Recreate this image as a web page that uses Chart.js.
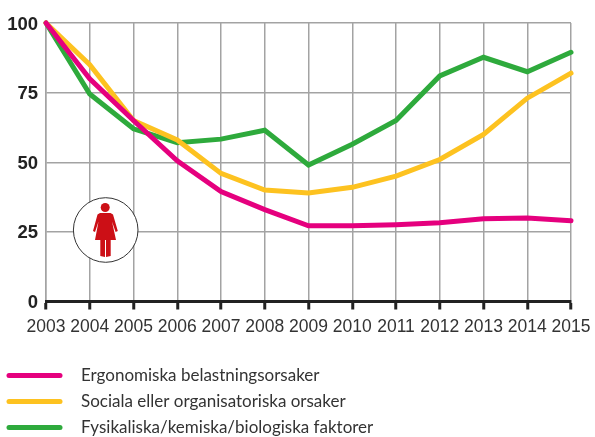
<!DOCTYPE html>
<html><head><meta charset="utf-8">
<style>html,body{margin:0;padding:0;background:#fff}canvas{display:block}</style>
<script src="https://cdn.jsdelivr.net/npm/chart.js@4"></script>
</head><body><canvas id="c" width="595" height="437"></canvas>
<script>
const years=['2003','2004','2005','2006','2007','2008','2009','2010','2011','2012','2013','2014','2015'];
const ergonomiska=[100,80,65,50.5,39.5,33,27.2,27.2,27.6,28.3,29.7,30,29];
const sociala=[100,85,65,58,46,40,39,41,45,51,60,73,82];
const fysikaliska=[100,74.5,62,57,58.3,61.5,49,56.5,65,81,87.7,82.5,89.5];
const seriesNames=['Ergonomiska belastningsorsaker','Sociala eller organisatoriska orsaker','Fysikaliska/kemiska/biologiska faktorer'];
const seriesColors=['#e5007e','#fdc220','#2eaa3c'];
const seriesValues=[ergonomiska,sociala,fysikaliska];
const yTicks=[0,25,50,75,100];

const overlay={id:'overlay',
 afterDatasetsDraw(ch){
  const c=ch.ctx;c.save();
  const cx=105.7,cy=230;
  c.beginPath();c.arc(cx,cy,32.3,0,Math.PI*2);c.fillStyle='#fff';c.fill();
  c.lineWidth=1;c.strokeStyle='#333';c.stroke();
  c.fillStyle='#cc0f16';
  c.beginPath();c.arc(105.2,207.5,4.5,0,Math.PI*2);c.fill();
  c.beginPath();
  c.moveTo(100,213);c.lineTo(110.5,213);c.lineTo(113,214.5);c.lineTo(117.8,231);c.lineTo(115.6,232);
  c.lineTo(112,221.5);c.lineTo(116,240);c.lineTo(110.7,240);c.lineTo(110.7,256);c.lineTo(106,257);c.lineTo(106,240);
  c.lineTo(105,240);c.lineTo(105,257);c.lineTo(100.3,256);c.lineTo(100.3,240);c.lineTo(95,240);
  c.lineTo(98.5,221.5);c.lineTo(95,232);c.lineTo(93,231);c.lineTo(97.5,214.5);c.closePath();c.fill();
  c.restore();
 },
 afterDraw(ch){
  const c=ch.ctx;c.save();
  const ys=[376,402,428];
  seriesNames.forEach((n,i)=>{
   c.strokeStyle=seriesColors[i];c.lineWidth=5;c.lineCap='round';
   c.beginPath();c.moveTo(9,ys[i]-.5);c.lineTo(60,ys[i]-.5);c.stroke();
   c.fillStyle='#333';c.font='17px Lato';c.textBaseline='middle';c.textAlign='left';
   c.fillText(n,81,ys[i]-.5);
  });
  c.restore();
 }};

new Chart(document.getElementById('c'),{
 type:'line',
 data:{labels:years,datasets:seriesNames.map((n,i)=>({label:n,data:seriesValues[i],borderColor:seriesColors[i],backgroundColor:seriesColors[i],borderWidth:5,pointRadius:0,tension:0,clip:false,borderCapStyle:'round',borderJoinStyle:'miter'}))},
 plugins:[overlay],
 options:{responsive:false,animation:false,
  layout:{padding:{top:23,right:24,left:0,bottom:0}},
  plugins:{legend:{display:false},title:{display:false},tooltip:{enabled:false}},
  scales:{
   x:{offset:false,
    afterFit(s){s.height=135.5;s.paddingLeft=0;s.paddingRight=0;},
    grid:{color:'#a3a3a3',lineWidth:1.5,tickColor:'#222',tickWidth:3,tickLength:8},
    border:{color:'#222',width:3,z:1},
    ticks:{color:'#333',font:{family:'"Liberation Sans"',size:17.5},padding:7,maxRotation:0,autoSkip:false}},
   y:{min:0,max:100,
    afterFit(s){s.width=46;s.paddingTop=0;s.paddingBottom=0;},
    afterBuildTicks(s){s.ticks=yTicks.map(v=>({value:v}));},
    grid:{color:'#a3a3a3',lineWidth:1.5,drawTicks:false},
    border:{color:'#a3a3a3',width:1.5},
    ticks:{color:'#222',font:{family:'"Liberation Sans"',size:18.5,weight:'bold'},padding:8,labelOffset:1.5}}
  }}
});
</script></body></html>
